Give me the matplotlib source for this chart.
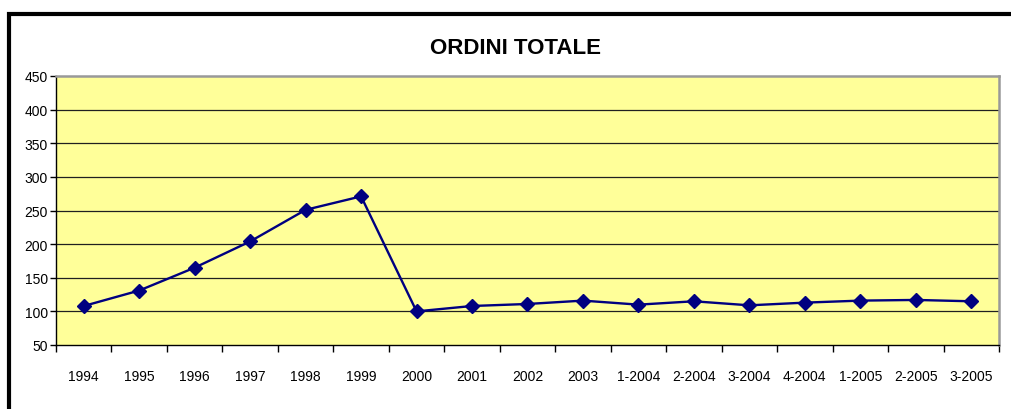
import numpy as np
import matplotlib
matplotlib.use("Agg")
import matplotlib.pyplot as plt
from matplotlib.patches import Rectangle

plt.rcParams['font.family'] = ['Liberation Sans', 'DejaVu Sans']

periodi = ['1994', '1995', '1996', '1997', '1998', '1999', '2000', '2001', '2002', '2003',
           '1-2004', '2-2004', '3-2004', '4-2004', '1-2005', '2-2005', '3-2005']
ordini = [108, 131, 165, 204, 251, 271, 100, 108, 111, 116,
          110, 115, 109, 113, 116, 117, 115]
y_ticks = [50, 100, 150, 200, 250, 300, 350, 400, 450]

fig = plt.figure(figsize=(10.11, 4.10), dpi=100)
fig.patch.set_facecolor('white')

# cornice nera del grafico (esce dal bordo a destra e in basso)
fig.add_artist(Rectangle((9 / 1011, -0.1), 1.2, 1 - 14.5 / 410 + 0.1,
                         transform=fig.transFigure, fill=False,
                         edgecolor='black', linewidth=3))

ax = fig.add_axes([56 / 1011, 1 - 346 / 410, (999 - 56) / 1011, (346 - 77) / 410])
ax.set_facecolor('#FFFF99')

x = np.arange(len(periodi))
for v in y_ticks[1:-1]:
    ax.axhline(v, color='#202020', linewidth=0.9, zorder=1)

ax.plot(x, ordini, color='#000080', linewidth=1.7, marker='D', markersize=7,
        markerfacecolor='#000080', markeredgecolor='#000080', zorder=3)

ax.set_xlim(-0.5, len(periodi) - 0.5)
ax.set_ylim(50, 450)
ax.set_yticks(y_ticks)
ax.set_yticklabels([str(v) for v in y_ticks], fontsize=10)
ax.tick_params(axis='y', length=4, width=1, pad=2)

ax.set_xticks(np.arange(len(periodi) + 1) - 0.5)
ax.set_xticklabels([])
ax.tick_params(axis='x', which='major', length=5, width=1)
ax.set_xticks(x, minor=True)
ax.set_xticklabels(periodi, minor=True, fontsize=10)
ax.tick_params(axis='x', which='minor', length=0, pad=17)

for s in ['top', 'right']:
    ax.spines[s].set_color('#999999')
    ax.spines[s].set_linewidth(1.8)
for s in ['left', 'bottom']:
    ax.spines[s].set_color('black')
    ax.spines[s].set_linewidth(1)

fig.text(515 / 1011, 1 - 49 / 410, 'ORDINI TOTALE', ha='center', va='center',
         fontsize=16, fontweight='bold')

fig.savefig('out.png', dpi=100)
